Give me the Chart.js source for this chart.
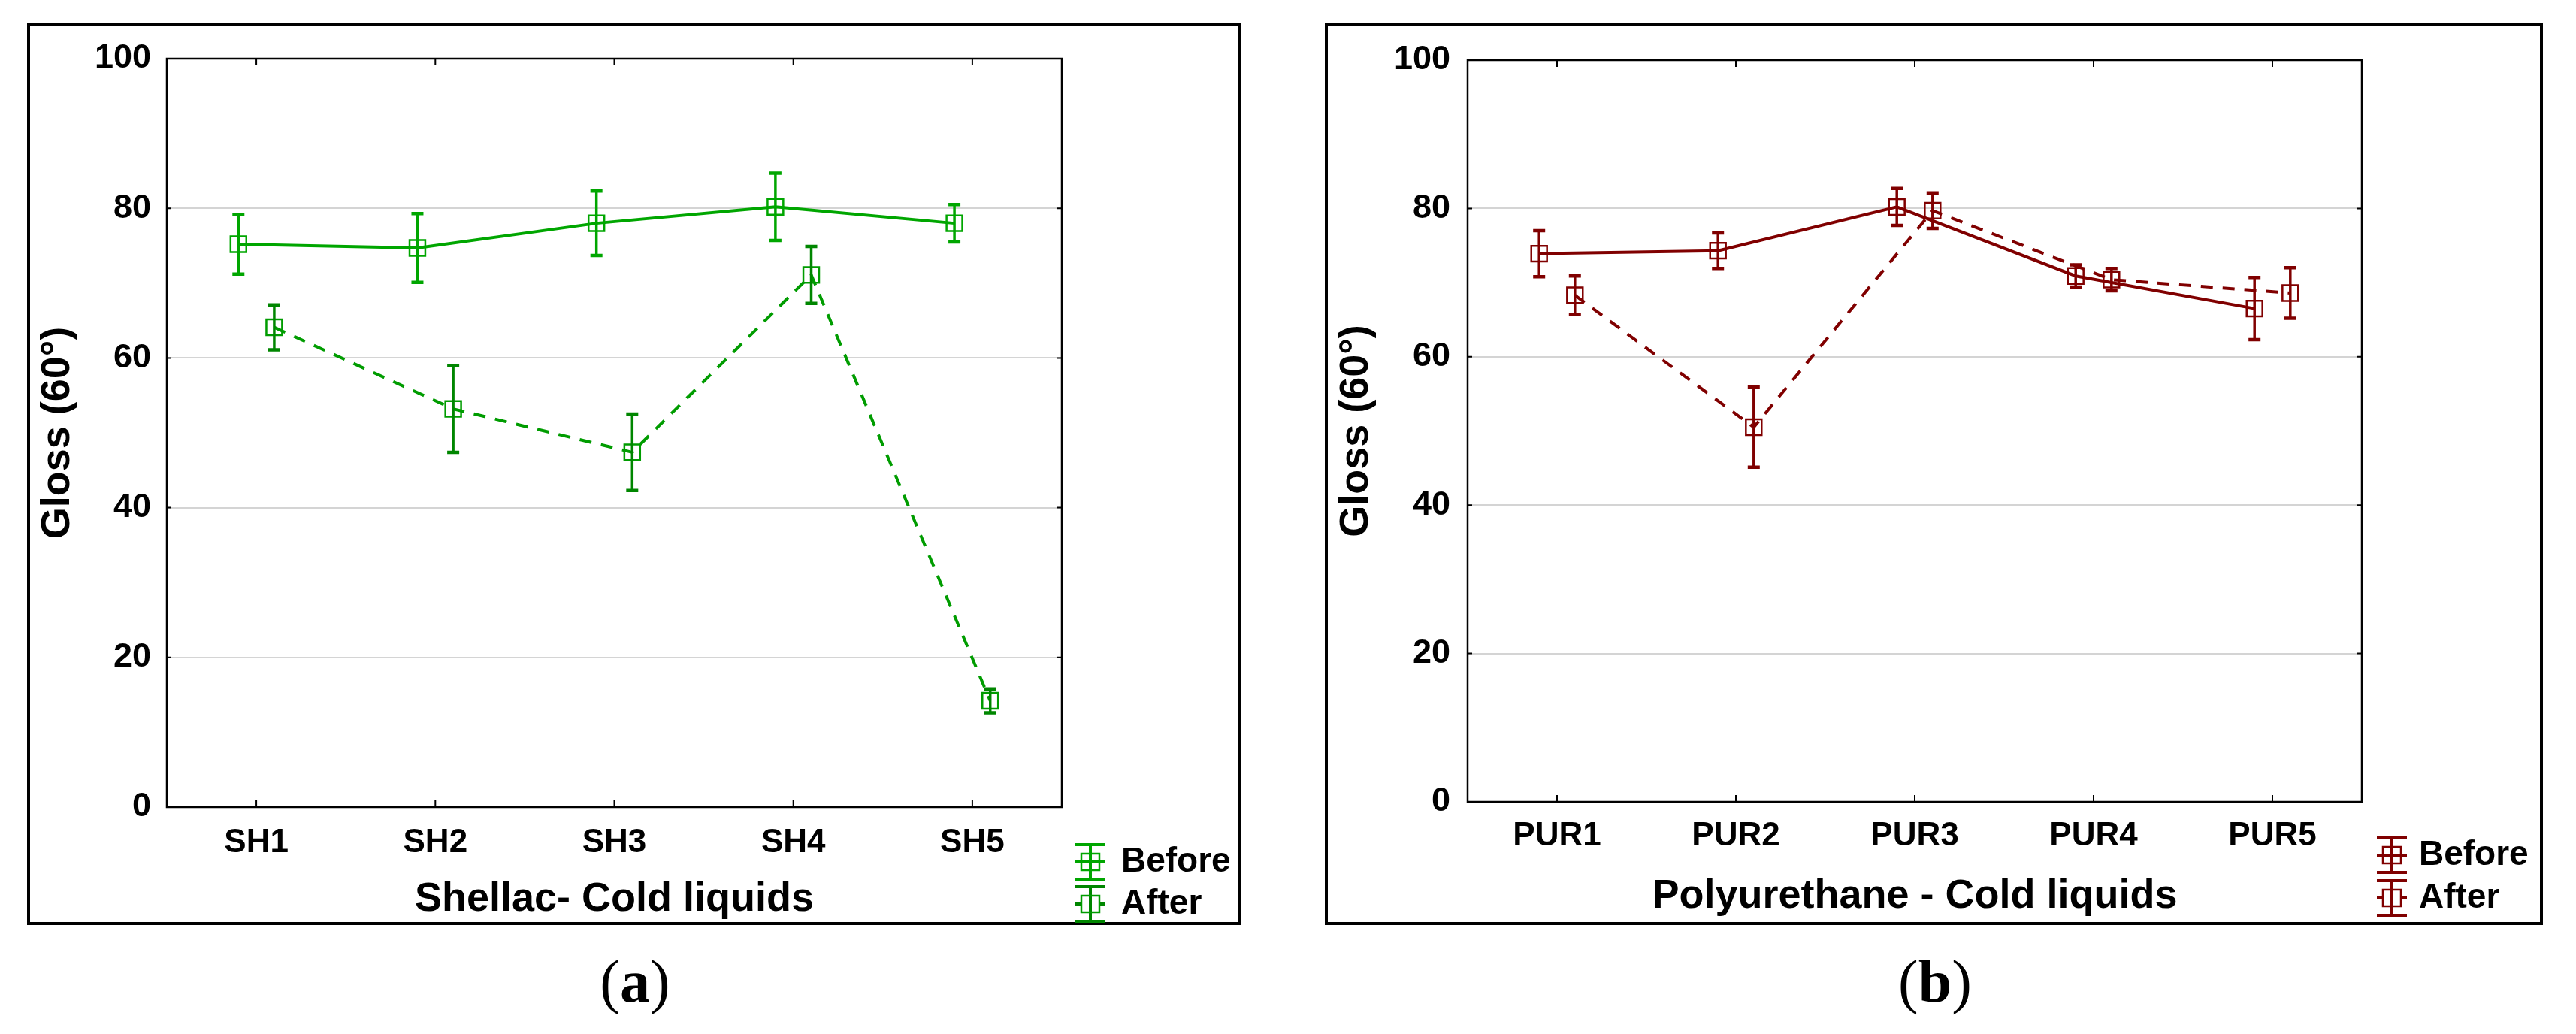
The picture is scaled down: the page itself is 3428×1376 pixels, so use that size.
<!DOCTYPE html>
<html>
<head>
<meta charset="utf-8">
<script src="https://cdn.jsdelivr.net/npm/chart.js@4.4.1/dist/chart.umd.min.js"></script>
<style>
  html, body { margin: 0; padding: 0; background: #fff; }
  body { width: 3428px; height: 1376px; position: relative; overflow: hidden; }
  canvas { position: absolute; }
  .sub {
    position: absolute; top: 1266px; transform: translateX(-50%);
    font-family: 'Liberation Serif', 'Times New Roman', serif; font-size: 80px; line-height: 1;
    color: #000; white-space: nowrap;
  }
</style>
</head>
<body>
<canvas id="chartA" width="1615" height="1201" style="left:36px;top:30px"></canvas>
<canvas id="chartB" width="1621" height="1201" style="left:1763px;top:30px"></canvas>
<div class="sub" style="left:845px">(<b>a</b>)</div>
<div class="sub" style="left:2575px">(<b>b</b>)</div>
<script>
// data
const shLabels = ['SH1', 'SH2', 'SH3', 'SH4', 'SH5'];
const shBefore = [75.2, 74.7, 78.0, 80.2, 78.0];
const shBeforeErr = [4.0, 4.6, 4.3, 4.5, 2.5];
const shAfter = [64.1, 53.2, 47.4, 71.1, 14.2];
const shAfterErr = [3.0, 5.8, 5.1, 3.8, 1.6];

const purLabels = ['PUR1', 'PUR2', 'PUR3', 'PUR4', 'PUR5'];
const purBefore = [73.9, 74.3, 80.2, 70.9, 66.5];
const purBeforeErr = [3.1, 2.4, 2.5, 1.5, 4.2];
const purAfter = [68.3, 50.5, 79.7, 70.4, 68.6];
const purAfterErr = [2.6, 5.4, 2.4, 1.5, 3.4];

const yTicks = [0, 20, 40, 60, 80, 100];
const seriesNames = ['Before', 'After'];

Chart.defaults.font.family = "'Liberation Sans', Arial, sans-serif";
Chart.defaults.color = '#000';

// error bars, frames, inside ticks and the legend
const panelPlugin = {
  id: 'panel',
  afterDatasetsDraw(chart) {
    const ctx = chart.ctx, ys = chart.scales.y;
    chart.data.datasets.forEach((ds, di) => {
      const meta = chart.getDatasetMeta(di);
      ctx.save();
      ctx.strokeStyle = ds.errColor;
      meta.data.forEach((pt, i) => {
        const v = ds.data[i].y, e = ds.err[i];
        const top = ys.getPixelForValue(v + e), bot = ys.getPixelForValue(v - e);
        ctx.lineWidth = 3.5;
        ctx.beginPath();
        ctx.moveTo(pt.x, top); ctx.lineTo(pt.x, bot);
        ctx.stroke();
        ctx.lineWidth = 4.5;
        ctx.beginPath();
        ctx.moveTo(pt.x - 8, top); ctx.lineTo(pt.x + 8, top);
        ctx.moveTo(pt.x - 8, bot); ctx.lineTo(pt.x + 8, bot);
        ctx.stroke();
      });
      ctx.restore();
    });
  },
  afterDraw(chart, args, opts) {
    const ctx = chart.ctx, a = chart.chartArea;
    const xs = chart.scales.x, ys = chart.scales.y;
    ctx.save();
    // outer frame
    ctx.strokeStyle = '#000';
    ctx.lineWidth = 4;
    ctx.strokeRect(2, 2, chart.width - 4, chart.height - 4);
    // plot box
    ctx.lineWidth = 2.5;
    ctx.strokeRect(a.left, a.top, a.right - a.left, a.bottom - a.top);
    // inside ticks
    ctx.lineWidth = 2;
    ctx.beginPath();
    xs.ticks.forEach(t => {
      const px = xs.getPixelForValue(t.value);
      ctx.moveTo(px, a.top); ctx.lineTo(px, a.top + 9);
      ctx.moveTo(px, a.bottom); ctx.lineTo(px, a.bottom - 9);
    });
    ys.ticks.forEach(t => {
      const py = ys.getPixelForValue(t.value);
      ctx.moveTo(a.left, py); ctx.lineTo(a.left + 6, py);
      ctx.moveTo(a.right, py); ctx.lineTo(a.right - 6, py);
    });
    ctx.stroke();
    // legend
    chart.data.datasets.forEach((ds, di) => {
      const cx = opts.iconX, cy = opts.rows[di];
      ctx.strokeStyle = ds.errColor;
      ctx.lineWidth = 4;
      ctx.beginPath();
      ctx.moveTo(cx, cy - 23); ctx.lineTo(cx, cy + 23);
      ctx.moveTo(cx - 20, cy - 23); ctx.lineTo(cx + 20, cy - 23);
      ctx.moveTo(cx - 20, cy + 23); ctx.lineTo(cx + 20, cy + 23);
      if (ds.borderDash && ds.borderDash.length) {
        ctx.moveTo(cx - 20, cy); ctx.lineTo(cx - 12, cy);
        ctx.moveTo(cx + 12, cy); ctx.lineTo(cx + 20, cy);
      } else {
        ctx.moveTo(cx - 20, cy); ctx.lineTo(cx + 20, cy);
      }
      ctx.stroke();
      ctx.strokeStyle = ds.borderColor;
      ctx.lineWidth = 2.5;
      ctx.strokeRect(cx - 12, cy - 11, 24, 22);
      ctx.fillStyle = '#000';
      ctx.font = "bold 46px 'Liberation Sans', Arial, sans-serif";
      ctx.textBaseline = 'middle';
      ctx.textAlign = 'left';
      ctx.fillText(seriesNames[di], opts.textX, cy);
    });
    ctx.restore();
  }
};

function makePanel(id, p) {
  const shift = 0.1;
  const series = (vals, i0) => vals.map((v, i) => ({ x: i + i0, y: v }));
  new Chart(document.getElementById(id), {
    type: 'line',
    data: {
      datasets: [
        {
          label: seriesNames[0], data: series(p.before, -shift), err: p.beforeErr,
          borderColor: p.color, errColor: p.color, borderWidth: 4, borderDash: [],
          pointStyle: 'rect', pointRadius: 14.8, pointBorderWidth: 2.5,
          pointBorderColor: p.color, pointBackgroundColor: 'rgba(0,0,0,0)', tension: 0
        },
        {
          label: seriesNames[1], data: series(p.after, shift), err: p.afterErr,
          borderColor: p.color2, errColor: p.errColor2, borderWidth: 4, borderDash: [16, 13],
          pointStyle: 'rect', pointRadius: 14.8, pointBorderWidth: 2.5,
          pointBorderColor: p.color2, pointBackgroundColor: 'rgba(0,0,0,0)', tension: 0
        }
      ]
    },
    options: {
      responsive: false,
      animation: false,
      devicePixelRatio: 1,
      layout: { padding: { top: p.padTop, right: p.padRight, left: 0, bottom: 0 } },
      plugins: {
        legend: { display: false },
        tooltip: { enabled: false },
        panel: { iconX: p.iconX, textX: p.textX, rows: p.rows }
      },
      scales: {
        x: {
          type: 'linear', min: -0.5, max: 4.5,
          afterBuildTicks: s => { s.ticks = p.labels.map((_, i) => ({ value: i })); },
          afterFit: s => { s.height = p.xHeight; },
          grid: { display: false, drawTicks: false },
          border: { display: false },
          ticks: {
            padding: p.xTickPad,
            font: { size: 44, weight: 'bold' },
            callback: v => p.labels[v]
          },
          title: {
            display: true, text: p.xTitle,
            font: { size: 54, weight: 'bold' },
            padding: { top: 0, bottom: p.xTitlePad }
          }
        },
        y: {
          min: 0, max: 100,
          afterBuildTicks: s => { s.ticks = yTicks.map(v => ({ value: v })); },
          afterFit: s => { s.width = p.yWidth; },
          grid: { color: '#d4d4d4', lineWidth: 2, drawTicks: false },
          border: { display: false },
          ticks: { padding: p.yTickPad, font: { size: 45, weight: 'bold' } },
          title: {
            display: true, text: 'Gloss (60°)',
            font: { size: 54, weight: 'bold' },
            padding: { top: p.yTitlePad, bottom: 0 }
          }
        }
      }
    },
    plugins: [panelPlugin]
  });
}

makePanel('chartA', {
  labels: shLabels, before: shBefore, beforeErr: shBeforeErr, after: shAfter, afterErr: shAfterErr,
  color: '#00a600', color2: '#009c00', errColor2: '#008600',
  xTitle: 'Shellac- Cold liquids',
  padTop: 38, padRight: 238, yWidth: 186, xHeight: 157,
  xTickPad: 21, xTitlePad: 1, yTickPad: 21, yTitlePad: 9,
  iconX: 1415, textX: 1456, rows: [1117, 1173]
});

makePanel('chartB', {
  labels: purLabels, before: purBefore, beforeErr: purBeforeErr, after: purAfter, afterErr: purAfterErr,
  color: '#800000', color2: '#800000', errColor2: '#800000',
  xTitle: 'Polyurethane - Cold liquids',
  padTop: 29, padRight: 241, yWidth: 190, xHeight: 164,
  xTickPad: 19, xTitlePad: 5, yTickPad: 23, yTitlePad: 10,
  iconX: 1420, textX: 1456, rows: [1108, 1165]
});
</script>
</body>
</html>
